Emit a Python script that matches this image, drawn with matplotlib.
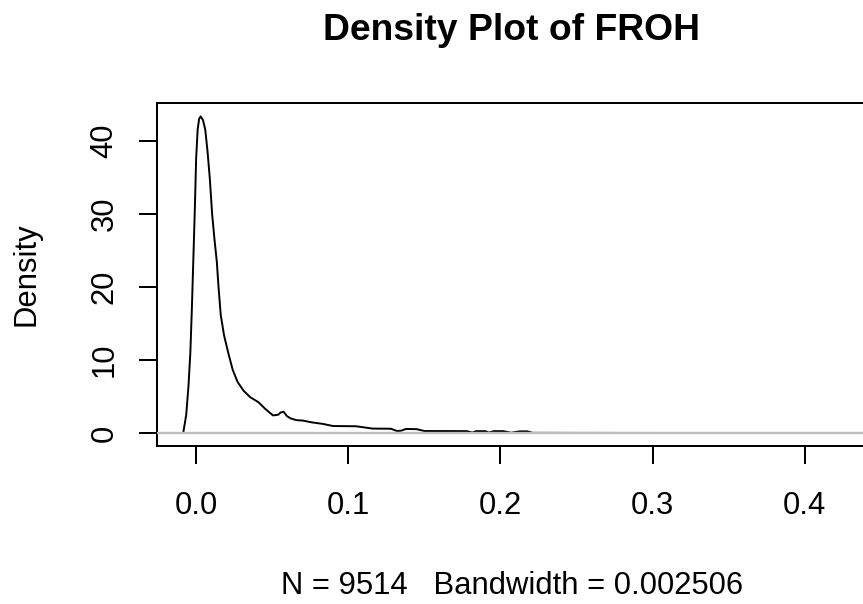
# r style density plot of froh values
# curve points

import matplotlib
matplotlib.use("Agg")
import matplotlib.pyplot as plt

froh_x = [-0.0084, -0.0065, -0.0050, -0.0038, -0.0028, -0.0018, -0.0008, 0.0000,
          0.0010, 0.0020, 0.0030, 0.0045, 0.0060, 0.0075, 0.0090, 0.0105,
          0.0120, 0.0136, 0.0147, 0.0162, 0.0184, 0.0213, 0.0241, 0.0272, 0.0311,
          0.0355, 0.0410, 0.0454, 0.0505, 0.0540, 0.0555, 0.0575, 0.0597, 0.0620,
          0.0660, 0.0700, 0.0760, 0.0830, 0.0900, 0.1050, 0.1160, 0.1280, 0.1320,
          0.1345, 0.1380, 0.1450, 0.1500, 0.1780, 0.1815, 0.1840, 0.1900, 0.1925,
          0.1956, 0.2018, 0.2070, 0.2127, 0.2176, 0.2210, 0.2500, 0.3000, 0.4228]
density_y = [0.1, 2.5, 6.5, 11.0, 17.0, 24.0, 31.0, 37.5,
             41.5, 43.0, 43.3, 42.8, 41.5, 38.5, 34.8, 30.0,
             26.6, 23.4, 20.0, 16.1, 13.3, 10.8, 8.6, 7.0, 5.8,
             4.9, 4.2, 3.3, 2.4, 2.5, 2.8, 2.9, 2.3, 2.0,
             1.75, 1.70, 1.45, 1.25, 0.95, 0.92, 0.60, 0.58, 0.27,
             0.30, 0.55, 0.52, 0.27, 0.25, 0.05, 0.25, 0.25, 0.05,
             0.25, 0.25, 0.03, 0.22, 0.22, 0.02, 0.01, 0.0, 0.0]

x_ticks = [0.0, 0.1, 0.2, 0.3, 0.4]
y_ticks = [0, 10, 20, 30, 40]

n_obs = 9514
bandwidth = 0.002506

plt.rcParams["font.family"] = ["Liberation Sans", "DejaVu Sans"]

fig = plt.figure(figsize=(8.63, 6.04), dpi=100)
ax = fig.add_axes([0.1823, 0.2621, 0.8208, 0.5669])

ax.plot(froh_x, density_y, color="black", lw=1.4, zorder=2)
# zero line drawn over the curve like r does
ax.axhline(0, color="#bebebe", lw=1.7, zorder=3)

ax.set_xlim(-0.0255, 0.44)
ax.set_ylim(-1.74, 45.1)
ax.set_xticks(x_ticks)
ax.set_xticklabels([f"{v:.1f}" for v in x_ticks])
ax.set_yticks(y_ticks)
ax.set_yticklabels([str(v) for v in y_ticks])

for s in ax.spines.values():
    s.set_linewidth(1.44)
    s.set_color("black")

ax.tick_params(axis="both", direction="out", length=13, width=1.44, labelsize=22.3)
ax.tick_params(axis="x", pad=19.5)
ax.tick_params(axis="y", pad=14.3, labelrotation=90)
for lab in ax.get_yticklabels():
    lab.set_va("center")

fig.text(511 / 863, (604 - 40) / 604, "Density Plot of FROH", ha="center",
         va="baseline", fontsize=26.8, fontweight="bold")
fig.text(512.5 / 863, (604 - 594.3) / 604,
         f"N = {n_obs}   Bandwidth = {bandwidth}", ha="center", va="baseline",
         fontsize=22.3)
fig.text(26.5 / 863, (604 - 274.5) / 604, "Density", rotation=90, ha="center",
         va="center", fontsize=22.3)

fig.savefig("out.png", dpi=100)
